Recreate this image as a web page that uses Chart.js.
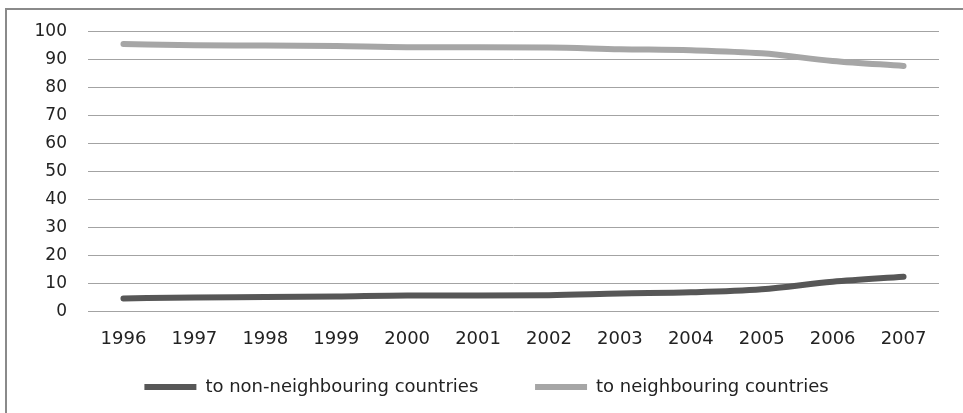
<!DOCTYPE html>
<html>
<head>
<meta charset="utf-8">
<script src="https://cdn.jsdelivr.net/npm/chart.js@4"></script>
<style>
  html, body { margin: 0; padding: 0; background: #fff; overflow: hidden; }
  #wrap { position: relative; width: 963px; height: 413px; overflow: hidden; }
  #frame { position: absolute; left: 5px; top: 8px; width: 1000px; height: 500px; border: 2px solid #8a8a8a; box-sizing: border-box; }
  canvas { position: absolute; left: 0; top: 0; }
</style>
</head>
<body>
<div id="wrap">
  <div id="frame"></div>
  <canvas id="chart" width="963" height="413"></canvas>
</div>
<script>
const years = ["1996","1997","1998","1999","2000","2001","2002","2003","2004","2005","2006","2007"];

const nonNeighbouring = [4.6, 5.0, 5.1, 5.3, 5.7, 5.7, 5.8, 6.4, 6.8, 7.9, 10.6, 12.4];

const neighbouring = [95.4, 95.0, 94.9, 94.7, 94.3, 94.3, 94.2, 93.6, 93.2, 92.1, 89.4, 87.6];

const seriesNames = ["to non-neighbouring countries", "to neighbouring countries"];

const yTicks = [0, 10, 20, 30, 40, 50, 60, 70, 80, 90, 100];

const textColor = "#222";

new Chart(
document.getElementById("chart"),
{
    type: "line",
    data: {
        labels: years,
        datasets: [
            {
                label: seriesNames[0],
                data: nonNeighbouring,
                borderColor: "#575757",
                backgroundColor: "#575757",
                borderWidth: 6,
                borderCapStyle: "round",
                pointRadius: 0,
                cubicInterpolationMode: "monotone"
            },
            {
                label: seriesNames[1],
                data: neighbouring,
                borderColor: "#a6a6a6",
                backgroundColor: "#a6a6a6",
                borderWidth: 6,
                borderCapStyle: "round",
                pointRadius: 0,
                cubicInterpolationMode: "monotone"
            }
        ]
    },
    options: {
        responsive: false,
        animation: false,
        layout: {
            padding: { left: 34, right: 24, top: 31, bottom: 7 }
        },
        scales: {
            x: {
                offset: true,
                grid: { display: false, drawTicks: false },
                border: { display: false },
                ticks: {
                    padding: 17,
                    color: textColor,
                    font: { family: "DejaVu Sans", size: 18 },
                    maxRotation: 0
                }
            },
            y: {
                min: 0,
                max: 100,
                afterBuildTicks: axis => {
                    axis.ticks = yTicks.map(v => ({ value: v }));
                },
                afterFit: axis => { axis.width = 54; },
                grid: { color: "#a3a3a3", lineWidth: 1, drawTicks: false },
                border: { display: false },
                ticks: {
                    padding: 21,
                    color: textColor,
                    font: { family: "DejaVu Sans", size: 17 }
                }
            }
        },
        plugins: {
            tooltip: { enabled: false },
            legend: {
                position: "bottom",
                labels: {
                    color: textColor,
                    font: { family: "DejaVu Sans", size: 18, lineHeight: 1.88 },
                    usePointStyle: true,
                    pointStyle: "line",
                    pointStyleWidth: 52,
                    padding: 11,
                    generateLabels: chart => {
                        const items = Chart.defaults.plugins.legend.labels.generateLabels(chart);
                        // widen the first entry so the second sits where it does in the source
                        items[0].text = items[0].text + "\u00a0".repeat(8);
                        items.forEach(it => { it.lineCap = "butt"; });
                        return items;
                    }
                }
            }
        }
    }
}
);
</script>
</body>
</html>
